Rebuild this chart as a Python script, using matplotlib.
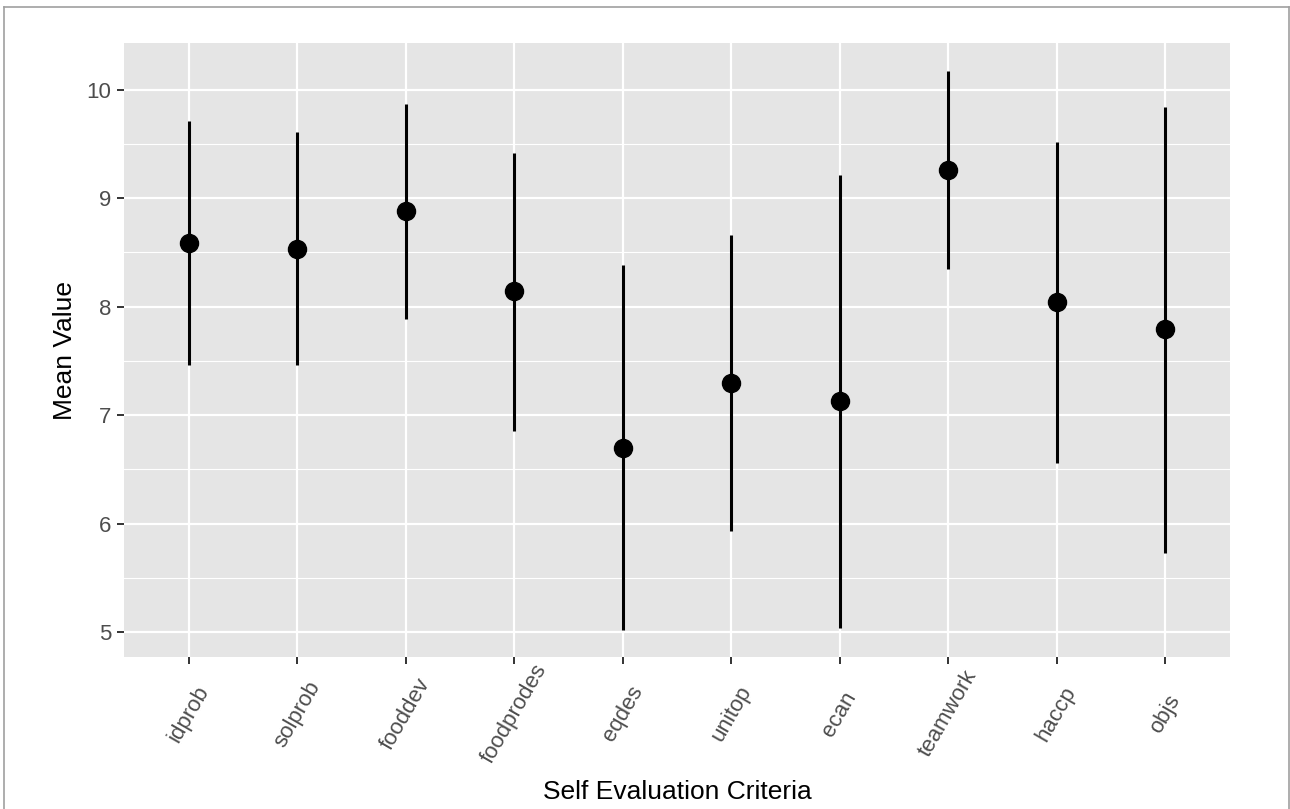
import matplotlib.pyplot as plt
from matplotlib.lines import Line2D
from matplotlib.ticker import MultipleLocator
from matplotlib.transforms import ScaledTranslation

# data
criteria = ["idprob", "solprob", "fooddev", "foodprodes", "eqdes",
            "unitop", "ecan", "teamwork", "haccp", "objs"]
mean_vals = [8.585, 8.53, 8.88, 8.14, 6.70, 7.30, 7.13, 9.26, 8.04, 7.79]
upper_vals = [9.71, 9.61, 9.87, 9.42, 8.38, 8.66, 9.21, 10.17, 9.52, 9.84]
lower_vals = [7.46, 7.46, 7.89, 6.85, 5.02, 5.93, 5.04, 8.35, 6.56, 5.73]

plt.rcParams["font.family"] = ["Liberation Sans", "DejaVu Sans"]

W, H = 1290, 809
fig = plt.figure(figsize=(W / 100, H / 100), dpi=100)
ax = fig.add_axes([124 / W, 1 - 657 / H, (1230 - 124) / W, (657 - 43) / H])

xs = list(range(1, len(criteria) + 1))

# ggplot-like panel
ax.set_facecolor("#E5E5E5")
for s in ax.spines.values():
    s.set_visible(False)
ax.set_axisbelow(True)
ax.yaxis.set_major_locator(MultipleLocator(1))
ax.yaxis.set_minor_locator(MultipleLocator(0.5))
ax.grid(True, which="major", color="white", linewidth=1.6)
ax.grid(True, which="minor", axis="y", color="white", linewidth=0.8)

ax.vlines(xs, lower_vals, upper_vals, color="black", linewidth=2.2, zorder=3)
ax.plot(xs, mean_vals, "o", color="black", markersize=13, zorder=4)

ax.set_xlim(0.4, len(criteria) + 0.6)
ax.set_ylim(4.77, 10.43)
ax.set_xticks(xs)
# ggplot puts the rotated labels centred under each tick
ax.set_xticklabels(criteria, rotation=60, ha="center", va="center")
shift = ScaledTranslation(3 / 100, 0, fig.dpi_scale_trans)
for lab in ax.get_xticklabels():
    lab.set_transform(lab.get_transform() + shift)

ax.tick_params(axis="both", which="major", length=5, width=1.4, color="#333333",
               labelcolor="#4D4D4D", labelsize=16)
ax.tick_params(axis="y", which="major", pad=4)
ax.tick_params(axis="x", which="major", pad=36)
ax.tick_params(axis="y", which="minor", length=0)

# axis titles placed where the reference has them
ax.set_ylabel("Mean Value", fontsize=19, color="black", ha="center", va="center")
ax.yaxis.set_label_coords((65 - 124) / 1106, 0.5)
ax.set_xlabel("Self Evaluation Criteria", fontsize=19, color="black", ha="center", va="center")
ax.xaxis.set_label_coords(0.5, -(792 - 657) / 614)

# thin gray frame round the image
frame_kw = dict(color="#A0A0A0", linewidth=1.2, transform=fig.transFigure)
fig.add_artist(Line2D([4 / W, 4 / W], [0, 1 - 7 / H], **frame_kw))
fig.add_artist(Line2D([4 / W, 1289 / W], [1 - 7 / H, 1 - 7 / H], **frame_kw))
fig.add_artist(Line2D([1289 / W, 1289 / W], [0, 1 - 7 / H], **frame_kw))

fig.savefig("out.png", dpi=100)
